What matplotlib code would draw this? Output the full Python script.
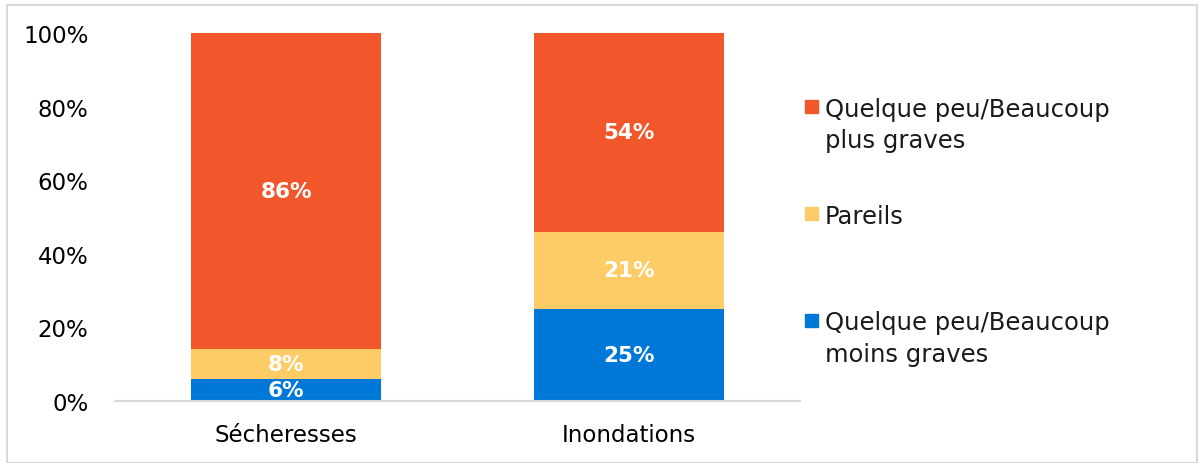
import matplotlib.pyplot as plt
from matplotlib.patches import Rectangle

categories = ["Sécheresses", "Inondations"]
moins = [6, 25]
pareils = [8, 21]
plus = [86, 54]
series_names = ["Quelque peu/Beaucoup\nplus graves", "Pareils",
                "Quelque peu/Beaucoup\nmoins graves"]
series_colors = ["#F1572A", "#FECC66", "#0078D7"]

plt.rcParams['font.family'] = ['DejaVu Sans']

W, H = 1204, 464
fig = plt.figure(figsize=(W / 100, H / 100), dpi=100)
ax = fig.add_axes([115 / W, 62 / H, 685 / W, 368 / H])

x = list(range(len(categories)))
w = 0.556
bottom2 = [a + b for a, b in zip(moins, pareils)]
ax.bar(x, moins, w, color=series_colors[2])
ax.bar(x, pareils, w, bottom=moins, color=series_colors[1])
ax.bar(x, plus, w, bottom=bottom2, color=series_colors[0])

for i in x:
    for val, base in [(moins[i], 0), (pareils[i], moins[i]), (plus[i], bottom2[i])]:
        ax.text(i, base + val / 2, f"{val}%", ha="center", va="center",
                color="white", fontsize=15.5, fontweight="bold")

ax.set_xlim(-0.5, 1.5)
ax.set_ylim(0, 100)
ax.set_yticks(range(0, 101, 20))
ax.set_yticklabels([f"{v}%" for v in range(0, 101, 20)], fontsize=16.5)
ax.set_xticks(x)
ax.set_xticklabels(categories, fontsize=16.5)
ax.tick_params(length=0)
ax.tick_params(axis="x", pad=16)
ax.tick_params(axis="y", pad=19)
for s in ["top", "right", "left"]:
    ax.spines[s].set_visible(False)
ax.spines["bottom"].set_color("#D9D9D9")
ax.spines["bottom"].set_linewidth(1.5)

# legend drawn by hand: square aligned with first text line
sq = 13
for k, (name, col) in enumerate(zip(series_names, series_colors)):
    yc = 107 + k * 107
    fig.patches.append(Rectangle((805 / W, 1 - (yc + sq / 2) / H), sq / W, sq / H,
                                 transform=fig.transFigure, color=col))
    for j, line in enumerate(name.split("\n")):
        fig.text(825 / W, 1 - (yc + j * 32) / H, line, fontsize=17.5,
                 va="center_baseline", ha="left", color="#1a1a1a")

fig.patches.append(Rectangle((7 / W, 0.0), 1190 / W, 458 / H, transform=fig.transFigure,
                             fill=False, edgecolor="#D9D9D9", linewidth=1.5))

fig.savefig("out.png", dpi=100)
